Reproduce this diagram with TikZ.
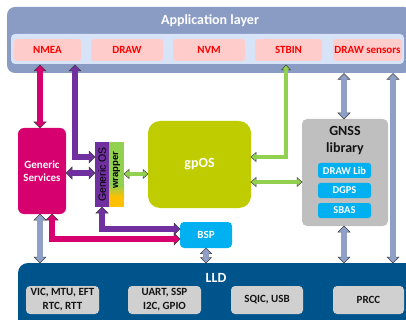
\documentclass[tikz,border=0pt]{standalone}
\usepackage{fontspec}
\setmainfont{Carlito}
\newfontfamily\arialf{Liberation Sans}
\usetikzlibrary{calc}
\definecolor{appC}{RGB}{138,155,196}
\definecolor{bandC}{RGB}{215,228,248}
\definecolor{pinkC}{RGB}{255,204,204}
\definecolor{redT}{RGB}{255,0,0}
\definecolor{magC}{RGB}{214,0,111}
\definecolor{purC}{RGB}{112,48,160}
\definecolor{grnC}{RGB}{146,208,80}
\definecolor{gpC}{RGB}{191,204,0}
\definecolor{gryC}{RGB}{191,191,191}
\definecolor{cyanC}{RGB}{0,176,240}
\definecolor{lldC}{RGB}{0,84,140}
\definecolor{lgC}{RGB}{208,208,208}
\definecolor{blgC}{RGB}{142,160,200}
\definecolor{edgeC}{RGB}{64,64,64}
\definecolor{orgC}{RGB}{255,192,0}
\definecolor{txtC}{RGB}{20,20,20}
\newcommand\ahead[6]{%
  \begin{scope}[shift={(#2)}, rotate=#3]
    \fill[#1] (0,0) -- (-#6,#5) -- (-#6,-#5) -- cycle;
    \draw[edgeC, line width=0.5pt, line join=miter] (-#6,#4) -- (-#6,#5) -- (0,0) -- (-#6,-#5) -- (-#6,-#4);
  \end{scope}}
\newcommand\bigh[3]{\ahead{#1}{#2}{#3}{2.85}{6}{6}}
\newcommand\smh[3]{\ahead{#1}{#2}{#3}{1.95}{4.5}{5}}
\tikzset{
  box/.style={inner sep=0pt, outer sep=0pt, rounded corners=#1},
  box/.default=3,
  sh/.style={draw=edgeC, line width=0.5pt, double=#1, double distance=5.2pt, line join=miter},
  shs/.style={draw=edgeC, line width=0.5pt, double=#1, double distance=3.4pt, line join=miter},
  pinkbox/.style={box=3, fill=pinkC, minimum height=22pt, text=redT, font=\bfseries\fontsize{11}{13}\selectfont},
  cybox/.style={box=2.5, fill=cyanC, minimum width=53pt, minimum height=15pt, text=white, font=\bfseries\fontsize{10.5}{12}\selectfont},
  lgbox/.style={box=4, fill=lgC, minimum height=28pt, text=txtC, align=center, font=\bfseries\fontsize{11}{14}\selectfont},
  title/.style={inner sep=0pt, text=white, font=\bfseries\fontsize{14}{17}\selectfont}
}
\begin{document}
\begin{tikzpicture}[x=1pt, y=-1pt]
\useasboundingbox (0,0) rectangle (406,320);
% application layer
\node[box=8, fill=appC, minimum width=405pt, minimum height=66pt] (app) at (209.5,40) {};
\node[title] (apptitle) at (210,21) {Application layer};
\node[box=4, fill=bandC, minimum width=393pt, minimum height=30pt] (band) at (207.5,49) {};
\node[pinkbox, minimum width=67pt] (NMEA) at (47.5,50) {NMEA};
\node[pinkbox, minimum width=72pt] (DRAW) at (127,50) {DRAW};
\node[pinkbox, minimum width=72pt] (NVM) at (209,50) {NVM};
\node[pinkbox, minimum width=67pt] (STBIN) at (288.5,50) {STBIN};
\node[pinkbox, minimum width=69pt] (DRAWs) at (367.5,50) {DRAW sensors};
% generic services
\node[box=6, fill=magC, minimum width=48pt, minimum height=86pt, text=white, align=center,
      font=\bfseries\fontsize{11}{13}\selectfont] (GS) at (42,171) {Generic\\Services};
% wrapper
\node[box=0, fill=purC, minimum width=14pt, minimum height=65pt] (GOS) at (102,174.5) {};
\node[box=0, fill=grnC, minimum width=15pt, minimum height=65pt] (WR) at (116.5,174.5) {};
\shade[top color=grnC, bottom color=orgC] (109,185) rectangle (124,197);
\fill[orgC] (109,197) rectangle (124,207);
\node[rotate=90, inner sep=0pt, text=black, font=\arialf\fontsize{10.5}{12}\selectfont] (GOSt) at (GOS.center) {Generic OS};
\node[rotate=90, inner sep=0pt, text=black, font=\arialf\bfseries\fontsize{9.5}{11}\selectfont] (WRt) at (116.5,170) {wrapper};
% gpOS
\node[box=12, fill=gpC, minimum width=103pt, minimum height=87pt, text=white,
      font=\bfseries\fontsize{14}{17}\selectfont] (gp) at (199.5,164.5) {gpOS};
% GNSS library
\node[box=5, fill=gryC, minimum width=86pt, minimum height=107pt] (GNSS) at (345,172.5) {};
\node[inner sep=0pt, align=center, text=txtC, font=\bfseries\fontsize{14}{17}\selectfont] (GNSSt) at (345,140.5) {GNSS\\library};
\node[cybox] (DL) at (344.5,170.5) {DRAW Lib};
\node[cybox] (DGPS) at (344.5,190.5) {DGPS};
\node[cybox] (SBAS) at (344.5,210.5) {SBAS};
% BSP
\node[box=4, fill=cyanC, minimum width=52pt, minimum height=26pt, text=white,
      font=\bfseries\fontsize{11}{13}\selectfont] (BSP) at (206,235) {BSP};
% LLD
\node[box=10, fill=lldC, minimum width=402pt, minimum height=67pt] (LLD) at (219,296.5) {};
\node[title] (LLDt) at (216,278) {LLD};
\node[lgbox, minimum width=73pt] (L1) at (62.5,300) {VIC, MTU, EFT\\RTC, RTT};
\node[lgbox, minimum width=73pt] (L2) at (164.5,300) {UART, SSP\\I2C, GPIO};
\node[lgbox, minimum width=72pt] (L3) at (267,300) {SQIC, USB};
\node[lgbox, minimum width=71pt] (L4) at (368.5,300) {PRCC};
% ---------- arrows ----------
% NMEA <-> Generic Services
\coordinate (t1a) at (40,65);
\coordinate (t1b) at (t1a |- GS.north);
\draw[sh=magC] ($(t1a)+(0,5.5)$) -- ($(t1b)+(0,-5.5)$);
\bigh{magC}{t1a}{90}\bigh{magC}{t1b}{270}
% NMEA <-> Generic OS
\coordinate (t2a) at (75,65);
\coordinate (t2b) at (GOS.west |- 0,157);
\draw[sh=purC] ($(t2a)+(0,5.5)$) |- ($(t2b)+(-5.5,0)$);
\bigh{purC}{t2a}{90}\bigh{purC}{t2b}{0}
% Generic Services <-> Generic OS
\coordinate (t3a) at (GS.east |- 0,173);
\coordinate (t3b) at (GOS.west |- 0,173);
\draw[sh=purC] ($(t3a)+(5.5,0)$) -- ($(t3b)+(-5.5,0)$);
\bigh{purC}{t3a}{180}\bigh{purC}{t3b}{0}
% wrapper <-> gpOS
\coordinate (t4a) at (WR.east |- 0,174);
\coordinate (t4b) at (gp.west |- 0,174);
\draw[shs=grnC] ($(t4a)+(4.5,0)$) -- ($(t4b)+(-4.5,0)$);
\smh{grnC}{t4a}{180}\smh{grnC}{t4b}{0}
% STBIN <-> gpOS
\coordinate (t5a) at (286,65);
\coordinate (t5b) at (gp.east |- 0,157);
\draw[shs=grnC] ($(t5a)+(0,4.5)$) |- ($(t5b)+(4.5,0)$);
\smh{grnC}{t5a}{90}\smh{grnC}{t5b}{180}
% gpOS <-> GNSS
\coordinate (t6a) at (gp.east |- 0,182);
\coordinate (t6b) at (GNSS.west |- 0,182);
\draw[shs=grnC] ($(t6a)+(4.5,0)$) -- ($(t6b)+(-4.5,0)$);
\smh{grnC}{t6a}{180}\smh{grnC}{t6b}{0}
% app <-> GNSS
\coordinate (t7a) at (344,73.5);
\coordinate (t7b) at (t7a |- GNSS.north);
\draw[sh=blgC] ($(t7a)+(0,5.5)$) -- ($(t7b)+(0,-5.5)$);
\bigh{blgC}{t7a}{90}\bigh{blgC}{t7b}{270}
% app <-> LLD (long)
\coordinate (t8a) at (393,73.5);
\coordinate (t8b) at (t8a |- LLD.north);
\draw[sh=blgC] ($(t8a)+(0,5.5)$) -- ($(t8b)+(0,-5.5)$);
\bigh{blgC}{t8a}{90}\bigh{blgC}{t8b}{270}
% GNSS <-> LLD
\coordinate (t9a) at (t7a |- GNSS.south);
\coordinate (t9b) at (t7a |- LLD.north);
\draw[sh=blgC] ($(t9a)+(0,5.5)$) -- ($(t9b)+(0,-5.5)$);
\bigh{blgC}{t9a}{90}\bigh{blgC}{t9b}{270}
% Generic Services <-> LLD
\coordinate (t10a) at (t1a |- GS.south);
\coordinate (t10b) at (t1a |- LLD.north);
\draw[sh=blgC] ($(t10a)+(0,5.5)$) -- ($(t10b)+(0,-5.5)$);
\bigh{blgC}{t10a}{90}\bigh{blgC}{t10b}{270}
% Generic Services <-> BSP
\coordinate (t11a) at (GS.south -| 52,0);
\coordinate (t11b) at (BSP.west |- 0,239);
\draw[sh=magC] ($(t11a)+(0,5.5)$) |- ($(t11b)+(-5.5,0)$);
\bigh{magC}{t11a}{90}\bigh{magC}{t11b}{0}
% Generic OS <-> BSP
\coordinate (t12a) at (GOS.south);
\coordinate (t12b) at (BSP.west |- 0,229);
\draw[sh=purC] ($(t12a)+(0,5.5)$) |- ($(t12b)+(-5.5,0)$);
\bigh{purC}{t12a}{90}\bigh{purC}{t12b}{0}
% BSP <-> LLD
\coordinate (t13a) at (BSP.south);
\coordinate (t13b) at (BSP.south |- LLD.north);
\draw[sh=blgC] ($(t13a)+(0,5)$) -- ($(t13b)+(0,-5)$);
\ahead{blgC}{t13a}{90}{2.85}{5.5}{5.5}\ahead{blgC}{t13b}{270}{2.85}{5.5}{5.5}
\end{tikzpicture}
\end{document}
